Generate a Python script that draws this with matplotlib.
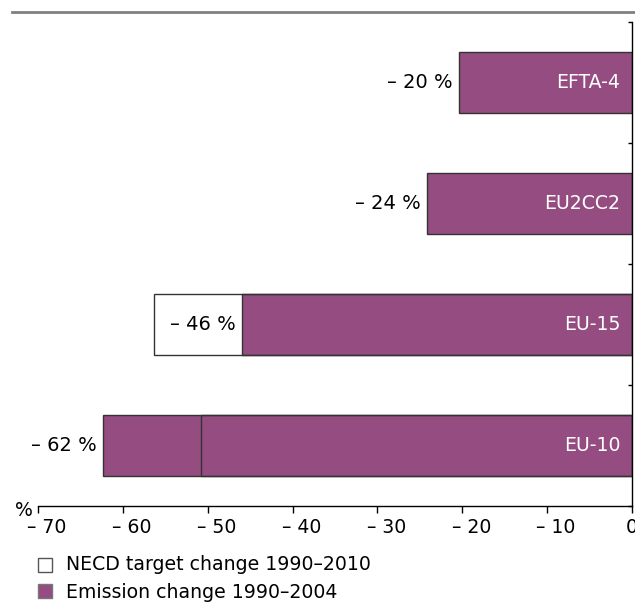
import matplotlib
matplotlib.use("Agg")
import matplotlib.pyplot as plt
from matplotlib.patches import Rectangle
from matplotlib.lines import Line2D
from matplotlib.transforms import ScaledTranslation
import numpy as np

categories = ["EFTA-4", "EU2CC2", "EU-15", "EU-10"]
emission_change = [-20.4, -24.1, -46.0, -62.3]
necd_target = [np.nan, np.nan, -56.3, -50.8]
value_labels = ["– 20 %", "– 24 %", "– 46 %", "– 62 %"]
xticks = [-70, -60, -50, -40, -30, -20, -10, 0]
xtick_labels = ["– 70", "– 60", "– 50", "– 40", "– 30", "– 20", "– 10", "0"]
legend_labels = ["NECD target change 1990–2010", "Emission change 1990–2004"]

PURPLE = "#954d81"
EDGE = "#333333"
FS = 13.6

W, H = 635, 602
fig = plt.figure(figsize=(W / 100, H / 100), dpi=100)
ax = fig.add_axes([38 / W, (H - 506) / H, (632 - 38) / W, (506 - 22) / H])

y = np.arange(len(categories))[::-1]  # top first
ax.barh(y, emission_change, height=0.5, color=PURPLE, edgecolor=EDGE, linewidth=1.0, zorder=2)
ax.barh(y, necd_target, height=0.5, facecolor="none", edgecolor=EDGE, linewidth=1.0, zorder=3)

for yi, v, lab, cat in zip(y, emission_change, value_labels, categories):
    ax.annotate(lab, xy=(v, yi), xytext=(-4.5, 0), textcoords="offset points",
                ha="right", va="center", fontsize=14, color="black", zorder=4)
    ax.annotate(cat, xy=(0, yi), xytext=(-8.5, 0), textcoords="offset points",
                ha="right", va="center", fontsize=FS, color="white", zorder=4)

ax.set_xlim(-70, 0)
ax.set_ylim(-0.5, len(categories) - 0.5)
ax.set_xticks(xticks)
ax.set_xticklabels(xtick_labels, fontsize=FS)
ax.tick_params(axis="x", direction="out", length=5, width=1, pad=3.5, colors="black")
shift = ScaledTranslation(9 / 100, 0, fig.dpi_scale_trans)
for lbl in ax.get_xticklabels()[:-1]:
    lbl.set_transform(lbl.get_transform() + shift)

ax.yaxis.tick_right()
ax.set_yticks(np.arange(-0.5, len(categories), 1.0))
ax.set_yticklabels([])
ax.tick_params(axis="y", direction="in", length=3, width=1, right=True, left=False)

for s in ["top", "left"]:
    ax.spines[s].set_visible(False)
for s in ["bottom", "right"]:
    ax.spines[s].set_linewidth(1.0)
    ax.spines[s].set_color("black")

fig.text(33 / W, (H - 510) / H, "%", ha="right", va="center", fontsize=FS)

# gray rule at top
fig.add_artist(Line2D([12 / W, 1.0], [(H - 12) / H] * 2, color="#808080", linewidth=2))

# legend
fig.add_artist(Rectangle((38 / W, (H - 572) / H), 14 / W, 14 / H, facecolor="white",
                         edgecolor="#555555", linewidth=1, transform=fig.transFigure))
fig.add_artist(Rectangle((38 / W, (H - 598) / H), 14 / W, 14 / H, facecolor=PURPLE,
                         edgecolor="#777777", linewidth=1, transform=fig.transFigure))
fig.text(66 / W, (H - 564) / H, legend_labels[0], ha="left", va="center", fontsize=FS)
fig.text(66 / W, (H - 592) / H, legend_labels[1], ha="left", va="center", fontsize=FS)

fig.savefig("out.png", dpi=100)
